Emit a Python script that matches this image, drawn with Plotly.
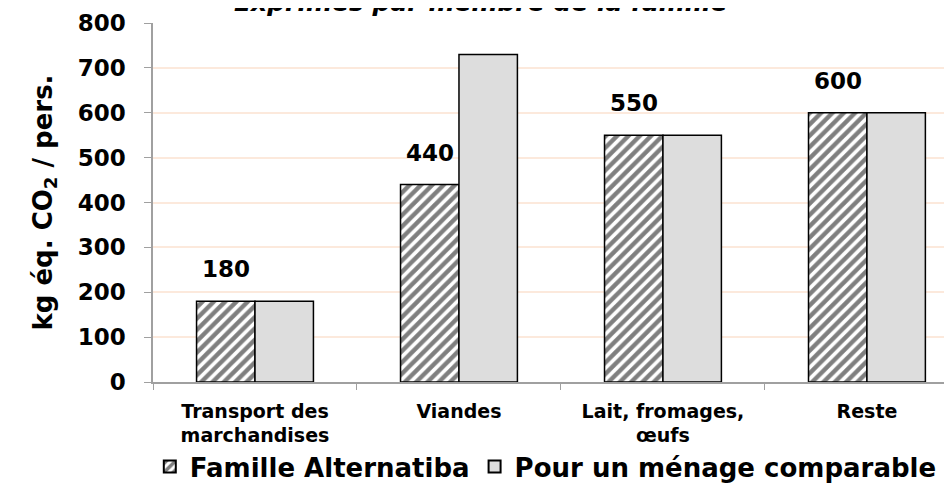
import plotly.graph_objects as go

categories = ["Transport des<br>marchandises", "Viandes", "Lait, fromages,<br>œufs", "Reste"]
famille_alternatiba = [180, 440, 550, 600]
menage_comparable = [180, 730, 550, 600]
y_ticks = [0, 100, 200, 300, 400, 500, 600, 700, 800]
series_names = ["Famille Alternatiba", "Pour un ménage comparable"]
title_text = "Exprimés par membre de la famille"
y_title = "kg éq. CO<sub>2</sub> / pers."

FONT = "DejaVu Sans"

fig = go.Figure()
fig.add_trace(go.Bar(
    x=categories, y=famille_alternatiba, name=series_names[0],
    marker=dict(color="white",
                line=dict(color="black", width=1.5),
                pattern=dict(shape="/", fgcolor="black", bgcolor="white",
                             size=8, solidity=0.55)),
))
fig.add_trace(go.Bar(
    x=categories, y=menage_comparable, name=series_names[1],
    marker=dict(color="#DDDDDD", line=dict(color="black", width=1.5)),
))

for c, v in zip(categories, famille_alternatiba):
    fig.add_annotation(x=c, y=v, xref="x", yref="y", text=str(v),
                       showarrow=False, xshift=-29, yshift=17, yanchor="bottom",
                       font=dict(family=FONT, size=23, color="black", weight="bold"))

fig.add_annotation(x=0.41, y=1.058, xref="paper", yref="paper", text=f"<i>{title_text}</i>",
                   showarrow=False, yanchor="middle",
                   font=dict(family=FONT, size=25, color="black", weight="bold"))

fig.update_layout(
    width=952, height=494,
    margin=dict(l=145, r=8, t=15, b=120, autoexpand=False),
    paper_bgcolor="white", plot_bgcolor="white",
    barmode="group", bargap=0.427, bargroupgap=0,
    font=dict(family=FONT, color="black", weight="bold"),
    showlegend=True,
    legend=dict(orientation="h", x=-0.004, y=-0.236, xanchor="left", yanchor="middle",
                font=dict(family=FONT, size=26, color="black", weight="bold"),
                traceorder="normal", itemsizing="constant"),
)
fig.update_xaxes(
    range=[-0.5, 3.417], showline=True, linecolor="#A0A0A0", linewidth=1.5,
    ticks="outside", tickson="boundaries", ticklen=6, tickcolor="#A0A0A0",
    ticklabelstandoff=11, automargin=False,
    tickfont=dict(family=FONT, size=19, color="black", weight="bold"),
    showgrid=False, zeroline=False,
)
fig.update_yaxes(
    range=[0, 800], tickvals=y_ticks, showline=True, linecolor="#A0A0A0", linewidth=1.5,
    ticks="outside", ticklen=7, tickcolor="#A0A0A0",
    ticklabelstandoff=14, automargin=False,
    tickfont=dict(family=FONT, size=23, color="black", weight="bold"),
    showgrid=True, gridcolor="#FCE9DC", gridwidth=1.5, zeroline=False,
    title=dict(text=y_title, standoff=18,
               font=dict(family=FONT, size=26, color="black", weight="bold")),
)

fig.write_html("out.html")
